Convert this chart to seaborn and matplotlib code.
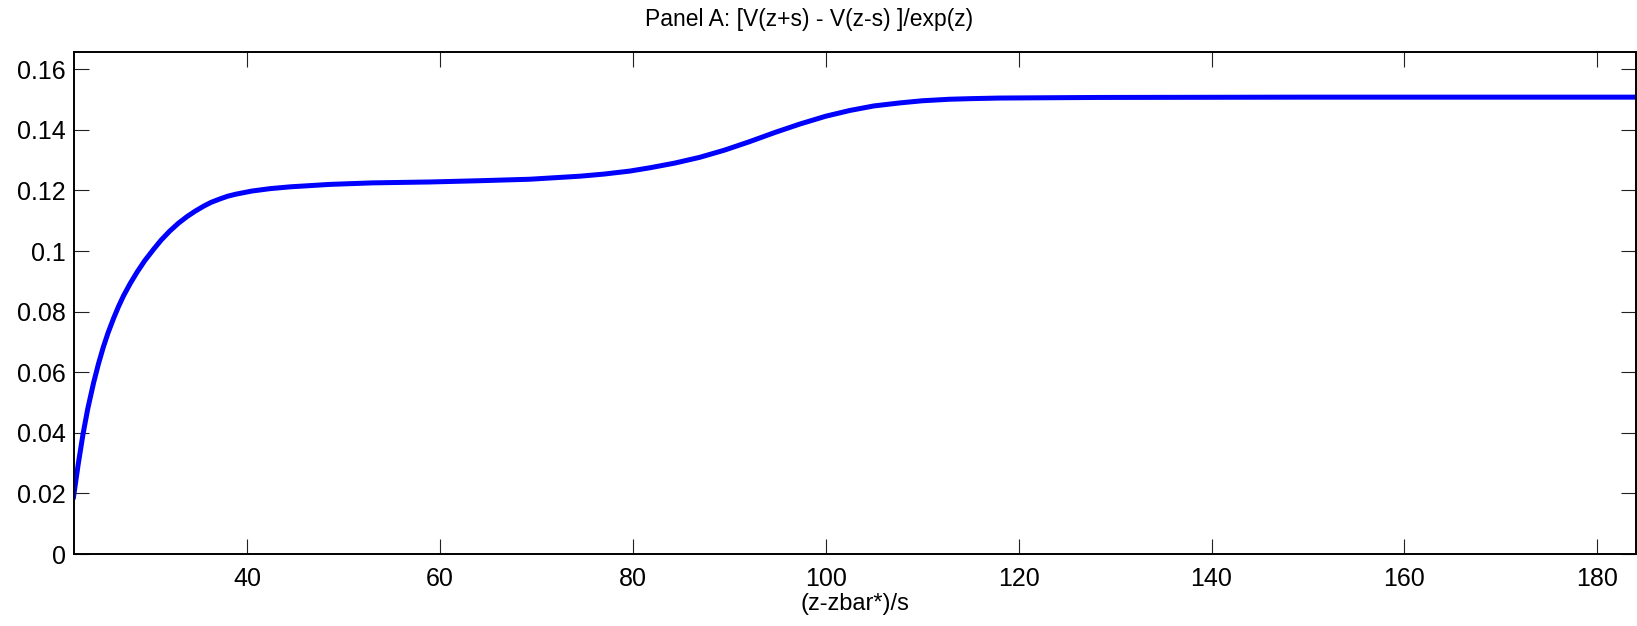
import numpy as np
import pandas as pd
import matplotlib
matplotlib.use("Agg")
import matplotlib.pyplot as plt
import seaborn as sns

# values
x_vals = [22.0, 22.5, 23.0, 23.5, 24.1, 24.6, 25.1, 25.6, 26.2, 26.7, 27.2, 27.9,
          28.6, 29.4, 30.3, 31.1, 32.0, 32.9, 33.8, 34.6, 35.5, 36.3, 37.2, 38.0,
          38.9, 40.5, 42.4, 44.5, 48.6, 53.0, 59.0, 64.0, 69.3, 74.5, 77.0, 79.7,
          81.8, 84.3, 86.9, 89.5, 92.1, 94.7, 97.3, 100.0, 102.5, 105.0, 107.7,
          110.0, 112.8, 115.0, 118.0, 123.0, 128.4, 150.0, 184.0]
y_vals = [0.0184, 0.0295, 0.0395, 0.0480, 0.0565, 0.0627, 0.0682, 0.0730, 0.0780,
          0.0818, 0.0852, 0.0893, 0.0930, 0.0968, 0.1005, 0.1036, 0.1066, 0.1092,
          0.1114, 0.1131, 0.1148, 0.1161, 0.1172, 0.1181, 0.1188, 0.1198, 0.1206,
          0.1212, 0.1220, 0.1225, 0.1228, 0.1232, 0.1237, 0.1247, 0.1254, 0.1264,
          0.1275, 0.1290, 0.1309, 0.1333, 0.1361, 0.1391, 0.1419, 0.1445, 0.1464,
          0.1479, 0.1489, 0.1496, 0.1501, 0.1503, 0.1505, 0.1506, 0.1507, 0.1508,
          0.1508]
x_ticks = [40, 60, 80, 100, 120, 140, 160, 180]
y_ticks = [0, 0.02, 0.04, 0.06, 0.08, 0.1, 0.12, 0.14, 0.16]
y_ticklabels = ["0", "0.02", "0.04", "0.06", "0.08", "0.1", "0.12", "0.14", "0.16"]

df = pd.DataFrame({"x": x_vals, "y": y_vals})

sns.set_theme(style="white")
plt.rcParams["font.family"] = ["Liberation Sans", "DejaVu Sans"]

fig = plt.figure(figsize=(16.37, 6.26), dpi=100)
ax = fig.add_axes([74 / 1637, 72 / 626, 1561.5 / 1637, 502 / 626])

sns.lineplot(data=df, x="x", y="y", ax=ax, color="#0000ff", linewidth=3.6,
             sort=False, estimator=None)

ax.set_xlim(22.07, 183.95)
ax.set_ylim(0, 0.1657)
ax.set_xticks(x_ticks)
ax.set_yticks(y_ticks)
ax.set_yticklabels(y_ticklabels)

for s in ax.spines.values():
    s.set_color("black")
    s.set_linewidth(1.4)
    s.set_visible(True)

ax.tick_params(direction="in", length=11, width=0.8, color="#222222",
               top=True, right=True, bottom=True, left=True,
               labelsize=18, labelcolor="black")
ax.tick_params(axis="y", pad=6)
ax.tick_params(axis="x", pad=9)

ax.set_xlabel("(z-zbar*)/s", fontsize=17, color="black", labelpad=2)
ax.set_ylabel("")
ax.set_title("Panel A: [V(z+s) - V(z-s) ]/exp(z)", fontsize=16.5, color="black",
             x=0.4706, pad=19)

fig.savefig("out.png", dpi=100, facecolor="white")
